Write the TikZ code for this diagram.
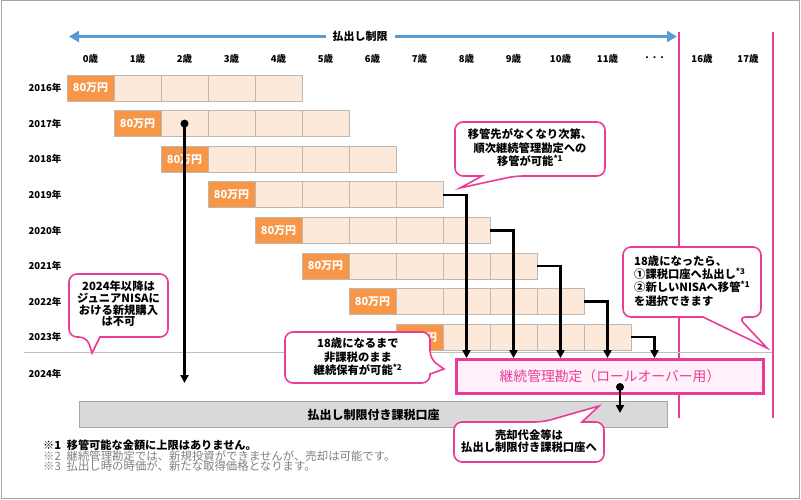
\documentclass[tikz,border=0pt]{standalone}
\usepackage{fontspec}
\setmainfont{Noto Sans CJK JP}
\usetikzlibrary{arrows.meta}
\definecolor{orangecell}{HTML}{F79646}
\definecolor{peach}{HTML}{FDE9D9}
\definecolor{cellline}{HTML}{BFB8B0}
\definecolor{pinkline}{HTML}{EA3C96}
\definecolor{pinkfill}{HTML}{FFF0FA}
\definecolor{bluearrow}{HTML}{5B9BD5}
\definecolor{graybox}{HTML}{D9D9D9}
\definecolor{grayboxline}{HTML}{A6A6A6}
\definecolor{notegray}{HTML}{7F7F7F}
\definecolor{frame}{HTML}{A6A6A6}
\begin{document}
\begin{tikzpicture}[x=1pt,y=-1pt,
  cell/.style={draw=cellline, line width=0.8pt, fill=peach, minimum width=47pt, minimum height=26pt, inner sep=0pt},
  firstcell/.style={cell, fill=orangecell, text=white, font=\bfseries\fontsize{11}{11}\selectfont},
  agelabel/.style={font=\bfseries\fontsize{9.5}{10}\selectfont, inner sep=0pt},
  yearlabel/.style={font=\bfseries\fontsize{9.5}{10}\selectfont, inner sep=0pt},
  conn/.style={line width=2.4pt, -{Triangle[length=8pt,width=8pt]}},
  callout/.style={draw=pinkline, line width=1.6pt, fill=white, rounded corners=8pt},
  calltext/.style={font=\bfseries\fontsize{11.3}{13.5}\selectfont, align=center, inner sep=0pt},
  dot/.style={circle, fill=black, inner sep=0pt, minimum size=8pt},
  note/.style={anchor=west, inner sep=0pt, font=\fontsize{11.4}{12}\selectfont},
]
\useasboundingbox (0,0) rectangle (801,500);
\draw[frame, line width=1pt] (1,1) rectangle (799,498);

% top arrow
\coordinate (arrL) at (69,36.5);
\coordinate (arrR) at (677,36.5);
\draw[bluearrow, line width=3pt, {Triangle[length=10pt,width=11pt]}-{Triangle[length=10pt,width=11pt]}] (arrL) -- (arrR);
\node[fill=white, inner xsep=7pt, inner ysep=1pt, font=\bfseries\fontsize{11}{11}\selectfont] (limit) at (360,36) {払出し制限};

% age labels
\foreach \k in {0,...,11} \node[agelabel] (age\k) at ({90.5+47*\k},59) {{\k}歳};
\node[agelabel, font=\bfseries\fontsize{7.5}{8}\selectfont] (age12) at (654.5,59) {・・・};
\node[agelabel] (age16) at (702,59) {16歳};
\node[agelabel] (age17) at (748,59) {17歳};

% pink vertical lines
\draw[pinkline, line width=2pt] (679,32) -- (679,418);
\draw[pinkline, line width=2pt] (773,32) -- (773,418);

% gray separator
\draw[black!25, line width=0.8pt] (24,352) -- (772,352);

% rows
\foreach \i in {0,...,7} {
  \pgfmathsetmacro\yy{88+35.6*\i}
  \node[yearlabel] (yr\i) at (45,\yy) {\number\numexpr2016+\i\relax 年};
  \node[firstcell] (c\i-0) at ({90.5+47*\i},\yy) {80万円};
  \foreach \j in {1,...,4} {
    \pgfmathtruncatemacro\kk{\i+\j}
    \node[cell] (c\i-\j) at ({90.5+47*\kk},\yy) {};
  }
}
\node[yearlabel] (yr8) at (45,374) {2024年};

% rollover account
\node[draw=pinkline, line width=2.8pt, fill=pinkfill, minimum width=307pt, minimum height=34pt, inner sep=0pt,
      text=pinkline, font=\fontsize{13.8}{14}\selectfont] (rollover) at (610,376.5) {継続管理勘定（ロールオーバー用）};

% taxable account
\node[draw=grayboxline, line width=1pt, fill=graybox, minimum width=588pt, minimum height=26pt, inner sep=0pt,
      font=\bfseries\fontsize{12}{12}\selectfont] (taxable) at (373.5,414.5) {払出し制限付き課税口座};

% connectors
\node[dot] (d1) at (c1-1.center) {};
\coordinate (d1end) at (184.5,383);
\draw[conn] (d1.center) -- (d1end);
\foreach \i/\k in {3/8,4/9,5/10,6/11,7/12}
  \draw[conn] (c\i-4.east) -| (rollover.north -| age\k);
\node[dot] (d2) at (620,387) {};
\coordinate (d2end) at (620,413);
\draw[conn] (d2.center) -- (d2end);

% callouts
\draw[callout] (482,176) -- (455,176) -- (455,122) -- (605,122) -- (605,176) -- (515,176) [sharp corners] -- (460,188) -- cycle;
\node[calltext] (t1) at (530,148) {移管先がなくなり次第、\\順次継続管理勘定への\\移管が可能\textsuperscript{*1}};

\draw[callout] (100,337) -- (168,337) -- (168,274) -- (69,274) -- (69,337) -- (87,337) [sharp corners] -- (92,353) -- cycle;
\node[calltext, font=\bfseries\fontsize{11.3}{11.6}\selectfont] (t2) at (118.5,304) {2024年以降は\\ジュニアNISAに\\おける新規購入\\は不可};

\draw[callout] (430,374) -- (430,383) -- (285,383) -- (285,332) -- (430,332) -- (430,359) [sharp corners] -- (444,369) -- cycle;
\node[calltext] (t3) at (358,357) {18歳になるまで\\非課税のまま\\継続保有が可能\textsuperscript{*2}};

\draw[callout] (703,317) -- (623,317) -- (623,247) -- (761,247) -- (761,317) -- (738,317) [sharp corners] -- (767,348) -- cycle;
\node[calltext, align=left, anchor=west, font=\bfseries\fontsize{11.3}{13.3}\selectfont] (t4) at (634,281) {18歳になったら、\\①課税口座へ払出し\textsuperscript{*3}\\②新しいNISAへ移管\textsuperscript{*1}\\を選択できます};

\draw[callout] (582,422) -- (604,422) -- (604,462) -- (454,462) -- (454,422) -- (543,422) [sharp corners] -- (599,406) -- cycle;
\node[calltext, font=\bfseries\fontsize{11.3}{12}\selectfont] (t5) at (529,441) {売却代金等は\\払出し制限付き課税口座へ};

% notes
\node[note, font=\bfseries\fontsize{11.2}{12}\selectfont] (n1) at (43,445) {※1\enspace 移管可能な金額に上限はありません。};
\node[note, text=notegray] (n2) at (43,456) {※2\enspace 継続管理勘定では、新規投資ができませんが、売却は可能です。};
\node[note, text=notegray] (n3) at (43,466.5) {※3\enspace 払出し時の時価が、新たな取得価格となります。};
\end{tikzpicture}
\end{document}
